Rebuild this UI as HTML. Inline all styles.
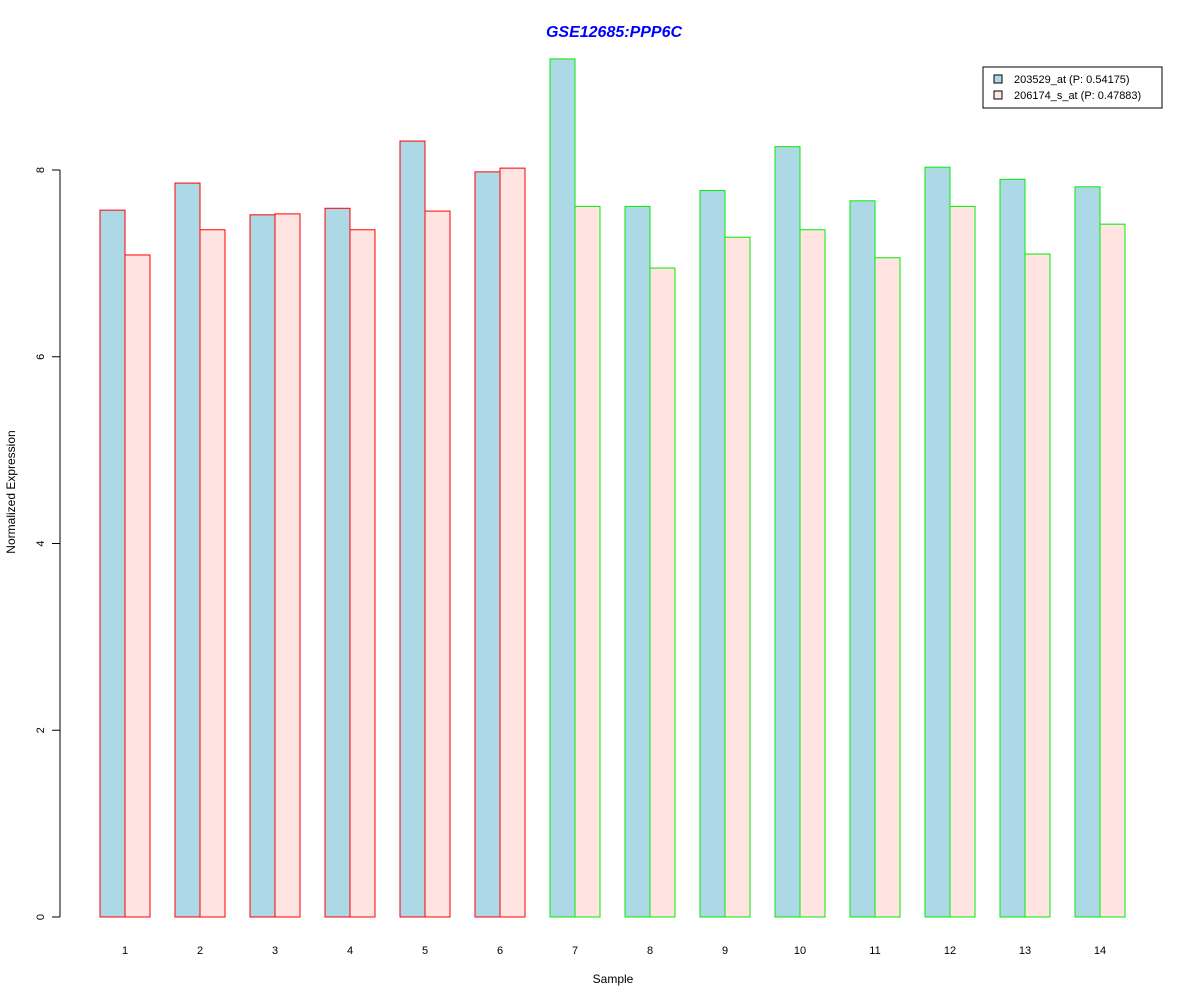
<!DOCTYPE html>
<html><head><meta charset="utf-8"><style>
body{margin:0;background:#fff;}
svg{display:block;font-family:"Liberation Sans",Arial,sans-serif;}
</style></head><body>
<svg width="1200" height="1000" viewBox="0 0 1200 1000">
<g id="root"></g>
</svg>
<script>
const categories=["1","2","3","4","5","6","7","8","9","10","11","12","13","14"];
const series1=[7.57,7.86,7.52,7.59,8.31,7.98,9.19,7.61,7.78,8.25,7.67,8.03,7.90,7.82];
const series2=[7.09,7.36,7.53,7.36,7.56,8.02,7.61,6.95,7.28,7.36,7.06,7.61,7.10,7.42];
const groups=["a","a","a","a","a","a","b","b","b","b","b","b","b","b"];
const yTicks=[0,2,4,6,8];
const NS="http://www.w3.org/2000/svg";
const root=document.getElementById('root');
const y=v=>917-v*93.375;
const x=i=>100+i*75;
function mk(t,a){const e=document.createElementNS(NS,t);for(const k in a)e.setAttribute(k,a[k]);root.appendChild(e);return e;}
const edge={a:"#ff0000",b:"#00ee00"};
categories.forEach((c,i)=>{
  let r=mk('rect',{x:x(i),y:y(series1[i]),width:25,height:917-y(series1[i]),fill:"#add8e6",stroke:edge[groups[i]]});
  
  
  r=mk('rect',{x:x(i)+25,y:y(series2[i]),width:25,height:917-y(series2[i]),fill:"#ffe4e1",stroke:edge[groups[i]]});
  
  
  const t=mk('text',{x:x(i)+25,y:954,'font-size':11,'text-anchor':'middle'});t.textContent=c;
  
  
});
const ax=mk('line',{x1:60,x2:60,y1:y(0),y2:y(8),stroke:"#000"});


yTicks.forEach(v=>{
  const l=mk('line',{x1:52,x2:60,y1:y(v),y2:y(v),stroke:"#000"});
  
  
  const t=mk('text',{x:0,y:0,'font-size':11,'text-anchor':'middle',transform:`translate(44,${y(v)}) rotate(-90)`});t.textContent=v;
  
  
});
</script>
<svg width="1200" height="1000" style="position:absolute;left:0;top:0">
<text x="614" y="37" font-size="16" font-weight="bold" font-style="italic" fill="#0000ff" text-anchor="middle" font-family="Liberation Sans,sans-serif">GSE12685:PPP6C</text>
<text x="613" y="983" font-size="12" text-anchor="middle" font-family="Liberation Sans,sans-serif">Sample</text>
<text transform="translate(15,492) rotate(-90)" font-size="12" text-anchor="middle" font-family="Liberation Sans,sans-serif">Normalized Expression</text>
<g font-family="Liberation Sans,sans-serif" font-size="11">
<rect x="983" y="67" width="179" height="41" fill="#fff" stroke="#000"/>
<rect x="994" y="75" width="8" height="8" fill="#add8e6" stroke="#000"/>
<text x="1014" y="83">203529_at (P: 0.54175)</text>
<rect x="994" y="91" width="8" height="8" fill="#ffe4e1" stroke="#000"/>
<text x="1014" y="99">206174_s_at (P: 0.47883)</text>
</g>
</svg>
</body></html>
